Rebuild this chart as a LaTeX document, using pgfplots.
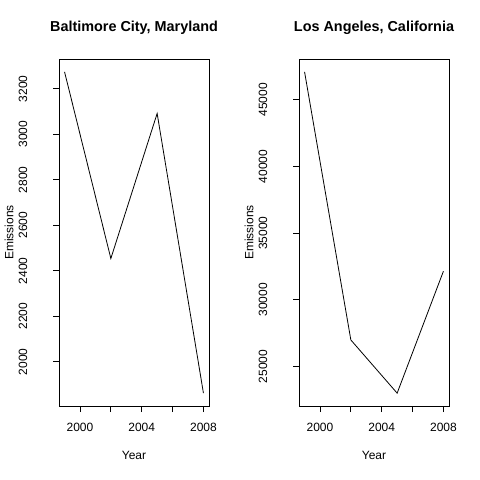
\documentclass[border=0pt]{standalone}
\usepackage{pgfplots}
\pgfplotsset{compat=1.18}
\usepackage{fontspec}
\setmainfont{Liberation Sans}
\begin{document}
\begin{tikzpicture}
\path[use as bounding box] (0,0) rectangle (480bp,480bp);
\pgfplotsset{
  rstyle/.style={
    scale only axis, width=150bp, height=347bp,
    anchor=south west,
    axis line style={line width=0.8bp},
    tick style={line width=0.8bp, black},
    tick align=outside, major tick length=6bp,
    xtick pos=bottom, ytick pos=left,
    xmin=1998.64, xmax=2008.36,
    xtick={2000,2002,2004,2006,2008},
    xticklabels={2000,,2004,,2008},
    font=\fontsize{12bp}{14bp}\selectfont,
    /pgf/number format/assume math mode=true,
    /pgf/number format/1000 sep={},
    scaled y ticks=false,
    yticklabel style={xshift=-26bp, rotate=90, anchor=base, /pgf/number format/fixed},
    xticklabel style={yshift=-19bp, anchor=base},
    xlabel={Year}, ylabel={Emissions},
    xlabel style={at={(axis description cs:0.5,-0.1556)}, anchor=base},
    ylabel style={at={(axis description cs:-0.333,0.5)}, anchor=center, rotate=0},
    title style={at={(axis description cs:0.5,1.0634)}, anchor=base, font=\fontsize{14.4bp}{16bp}\selectfont\bfseries},
  }
}
\begin{axis}[rstyle, at={(59bp,74bp)},
  ymin=1805.8, ymax=3330.7,
  ytick={2000,2200,...,3200},
  title={Baltimore City, Maryland}]
\addplot[black, line width=0.8bp] coordinates {(1999,3274.18) (2002,2453.916) (2005,3091.354) (2008,1862.282)};
\end{axis}
\begin{axis}[rstyle, at={(299bp,74bp)},
  ymin=22036, ymax=48067,
  ytick={25000,30000,...,45000},
  title={Los Angeles, California}]
\addplot[black, line width=0.8bp] coordinates {(1999,47103) (2002,26990) (2005,23000) (2008,32150)};
\end{axis}
\end{tikzpicture}
\end{document}
